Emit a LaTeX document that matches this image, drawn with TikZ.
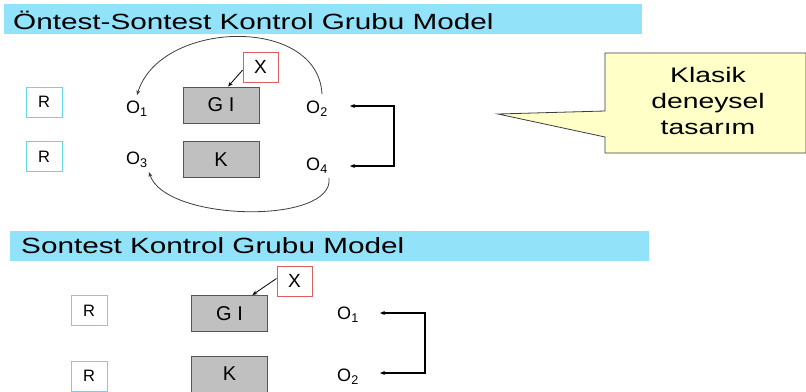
\documentclass[tikz,border=0pt]{standalone}
\usepackage{fontspec}
\setmainfont{Liberation Sans}
\newfontfamily\widefont[FakeStretch=1.35]{Liberation Sans}
\usetikzlibrary{arrows.meta}
\definecolor{barblue}{RGB}{146,226,250}
\definecolor{rcyan}{RGB}{100,215,235}
\definecolor{xred}{RGB}{220,95,95}
\definecolor{boxgray}{RGB}{192,192,192}
\definecolor{boxedge}{RGB}{85,85,85}
\definecolor{callfill}{RGB}{255,255,200}
\definecolor{arcgray}{RGB}{60,60,60}
\begin{document}
\begin{tikzpicture}[x=1pt,y=-1pt,
  rbox/.style={font=\fontsize{16.5}{18}\selectfont, draw=rcyan, line width=1pt, minimum width=36pt, minimum height=30pt, inner sep=0pt},
  grp/.style={font=\fontsize{20}{22}\selectfont, draw=boxedge, fill=boxgray, line width=1pt, minimum width=76pt, minimum height=36pt, inner sep=0pt},
  xbox/.style={font=\fontsize{19}{21}\selectfont, draw=xred, line width=1pt, minimum width=35pt, minimum height=30pt, inner sep=0pt},
  obs/.style={font=\fontsize{18}{20}\selectfont, inner sep=1pt},
  ttl/.style={font=\widefont\fontsize{22}{24}\selectfont, anchor=base west, inner sep=0pt},
  tip/.style={-{Stealth[length=5pt,width=4pt]}},
  arcline/.style={tip, draw=arcgray, line width=0.8pt},
  brk/.style={{Stealth[length=5pt,width=4pt]}-{Stealth[length=5pt,width=4pt]}, line width=1.1pt}
]
\useasboundingbox (0,0) rectangle (806,391);
% ---------- top section ----------
\fill[barblue] (4,4) rectangle (642,34);
\node[ttl] (t1) at (13,29) {Öntest-Sontest Kontrol Grubu Model};

\node[rbox] (r1) at (44,102) {R};
\node[rbox] (r2) at (44,156.5) {R};
\node[grp] (gi1) at (221,105) {G I};
\node[grp] (k1) at (221,159.5) {K};
\node[xbox] (x1) at (260.5,67) {X};
\node[obs] (o1) at (137,109) {O\textsubscript{1}};
\node[obs] (o2) at (317,109) {O\textsubscript{2}};
\node[obs] (o3) at (137,160) {O\textsubscript{3}};
\node[obs] (o4) at (317,166) {O\textsubscript{4}};

\draw[tip, line width=0.8pt] (x1.190) -- (gi1.69);
\draw[arcline] ([xshift=5pt,yshift=6pt]o2.north) .. controls (318,15) and (160,20) .. ([xshift=0pt,yshift=5pt]o1.north);
\draw[arcline] ([xshift=12pt,yshift=-3pt]o4.south) .. controls (335,225) and (165,222) .. ([xshift=12pt,yshift=-3pt]o3.south);

\coordinate (a1) at (350,106);
\coordinate (a2) at (350,166);
\coordinate (c1) at (394,106);
\coordinate (c2) at (394,166);
\draw[brk] (a1) -- (c1) -- (c2) -- (a2);

% callout
\draw[fill=callfill, draw=arcgray, line width=0.8pt] (605,53) -- (806,53) -- (806,153) -- (605,153) -- (605,137) -- (498,114) -- (605,111) -- cycle;
\node[font=\widefont\fontsize{21}{26}\selectfont, align=center, inner sep=0pt] (cl) at (708,101) {Klasik\\deneysel\\tasarım};

% ---------- bottom section ----------
\fill[barblue] (10,231) rectangle (649,261);
\node[ttl] (t2) at (21,253) {Sontest Kontrol Grubu Model};

\node[rbox] (r3) at (89,310.5) {R};
\node[rbox] (r4) at (89,376) {R};
\node[grp] (gi2) at (229.5,313.5) {G I};
\node[grp] (k2) at (229.5,374) {K};
\node[xbox] (x2) at (294.5,281) {X};
\node[obs] (o5) at (348,315) {O\textsubscript{1}};
\node[obs] (o6) at (348,377) {O\textsubscript{2}};

\draw[tip, line width=0.8pt] (x2.172) -- (gi2.39);

\coordinate (a3) at (380,313);
\coordinate (a4) at (380,373);
\coordinate (c3) at (425,313);
\coordinate (c4) at (425,373);
\draw[brk] (a3) -- (c3) -- (c4) -- (a4);
\end{tikzpicture}
\end{document}
